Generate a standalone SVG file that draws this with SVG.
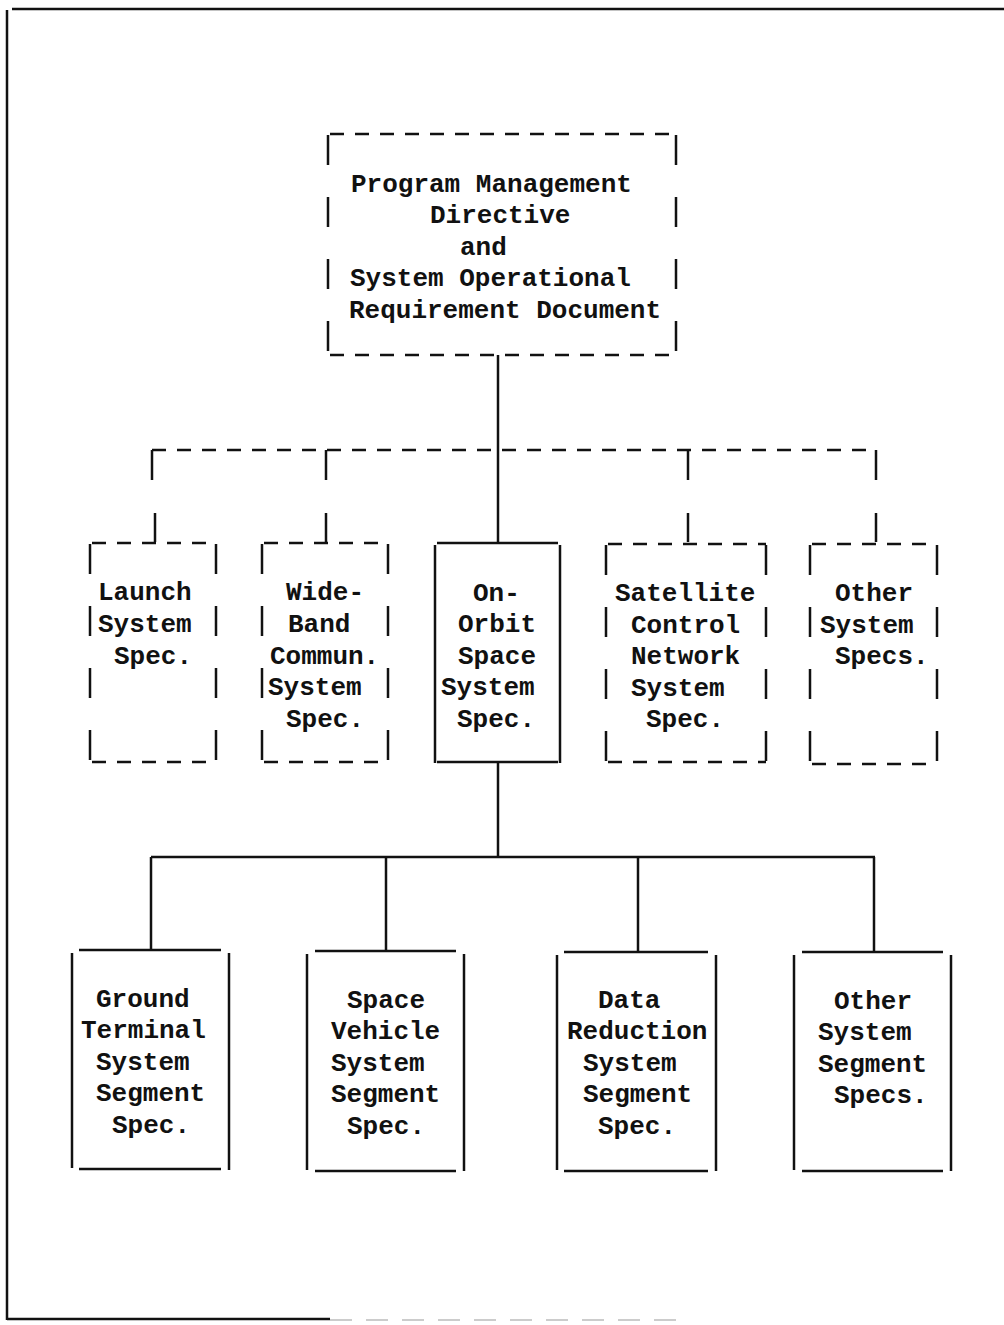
<svg xmlns="http://www.w3.org/2000/svg" width="1004" height="1325" viewBox="0 0 1004 1325">
<style>
.t{font-family:"Liberation Mono","Courier New",monospace;font-size:26px;font-weight:bold;fill:#111}
.s{stroke:#111;stroke-width:2.5;fill:none}
.dh{stroke:#111;stroke-width:2.5;fill:none;stroke-dasharray:14 11}
.dv{stroke:#111;stroke-width:2.5;fill:none;stroke-dasharray:30 32}
</style>
<rect width="1004" height="1325" fill="#fff"/>
<g id="frame">
<line class="s" x1="12" y1="9" x2="1004" y2="9"/>
<line class="s" x1="7" y1="10" x2="7" y2="1320"/>
<line class="s" x1="7" y1="1319" x2="330" y2="1319"/>
<line x1="330" y1="1320" x2="690" y2="1320" stroke="#ccc" stroke-width="2" stroke-dasharray="22 14"/>
</g>
<g id="connectors">
<line class="s" x1="498" y1="355" x2="498" y2="543"/>
<line class="dh" x1="152" y1="450" x2="876" y2="450"/>
<line class="s" x1="152" y1="450" x2="152" y2="480"/>
<line class="s" x1="326" y1="450" x2="326" y2="480"/>
<line class="s" x1="688" y1="450" x2="688" y2="480"/>
<line class="s" x1="876" y1="450" x2="876" y2="480"/>
<line class="s" x1="155" y1="513" x2="155" y2="542"/>
<line class="s" x1="326" y1="513" x2="326" y2="542"/>
<line class="s" x1="688" y1="513" x2="688" y2="542"/>
<line class="s" x1="876" y1="513" x2="876" y2="542"/>
<line class="s" x1="498" y1="762" x2="498" y2="857"/>
<line class="s" x1="151" y1="857" x2="875" y2="857"/>
<line class="s" x1="151" y1="857" x2="151" y2="950"/>
<line class="s" x1="386" y1="857" x2="386" y2="951"/>
<line class="s" x1="638" y1="857" x2="638" y2="952"/>
<line class="s" x1="874" y1="857" x2="874" y2="952"/>
</g>
<g id="pmd">
<line class="dh" x1="330" y1="134" x2="676" y2="134"/>
<line class="dh" x1="330" y1="355" x2="676" y2="355"/>
<line class="dv" x1="328" y1="135" x2="328" y2="355"/>
<line class="dv" x1="676" y1="135" x2="676" y2="355"/>
<text class="t" x="351" y="192">Program Management</text>
<text class="t" x="430" y="223">Directive</text>
<text class="t" x="460" y="255">and</text>
<text class="t" x="350" y="286">System Operational</text>
<text class="t" x="349" y="318">Requirement Document</text>
</g>
<g id="launch">
<line class="dh" x1="92" y1="543" x2="216" y2="543"/>
<line class="dh" x1="92" y1="762" x2="216" y2="762"/>
<line class="dv" x1="90" y1="544" x2="90" y2="762"/>
<line class="dv" x1="216" y1="544" x2="216" y2="762"/>
<text class="t" x="98" y="600">Launch</text>
<text class="t" x="98" y="632">System</text>
<text class="t" x="114" y="664">Spec.</text>
</g>
<g id="wideband">
<line class="dh" x1="264" y1="543" x2="388" y2="543"/>
<line class="dh" x1="264" y1="762" x2="388" y2="762"/>
<line class="dv" x1="262" y1="544" x2="262" y2="762"/>
<line class="dv" x1="388" y1="544" x2="388" y2="762"/>
<text class="t" x="286" y="600">Wide-</text>
<text class="t" x="288" y="632">Band</text>
<text class="t" x="270" y="664">Commun.</text>
<text class="t" x="268" y="695">System</text>
<text class="t" x="286" y="727">Spec.</text>
</g>
<g id="onorbit">
<line class="s" x1="437" y1="543" x2="558" y2="543"/>
<line class="s" x1="437" y1="762" x2="558" y2="762"/>
<line class="s" x1="435" y1="545" x2="435" y2="763"/>
<line class="s" x1="560" y1="545" x2="560" y2="763"/>
<text class="t" x="473" y="601">On-</text>
<text class="t" x="458" y="632">Orbit</text>
<text class="t" x="458" y="664">Space</text>
<text class="t" x="441" y="695">System</text>
<text class="t" x="457" y="727">Spec.</text>
</g>
<g id="satellite">
<line class="dh" x1="608" y1="544" x2="766" y2="544"/>
<line class="dh" x1="608" y1="762" x2="766" y2="762"/>
<line class="dv" x1="606" y1="545" x2="606" y2="762"/>
<line class="dv" x1="766" y1="545" x2="766" y2="762"/>
<text class="t" x="615" y="601">Satellite</text>
<text class="t" x="631" y="633">Control</text>
<text class="t" x="631" y="664">Network</text>
<text class="t" x="631" y="696">System</text>
<text class="t" x="646" y="727">Spec.</text>
</g>
<g id="othersys">
<line class="dh" x1="812" y1="544" x2="937" y2="544"/>
<line class="dh" x1="812" y1="764" x2="937" y2="764"/>
<line class="dv" x1="810" y1="545" x2="810" y2="764"/>
<line class="dv" x1="937" y1="545" x2="937" y2="764"/>
<text class="t" x="835" y="601">Other</text>
<text class="t" x="820" y="633">System</text>
<text class="t" x="835" y="664">Specs.</text>
</g>
<g id="ground">
<line class="s" x1="79" y1="950" x2="221" y2="950"/>
<line class="s" x1="79" y1="1169" x2="221" y2="1169"/>
<line class="s" x1="72" y1="953" x2="72" y2="1168"/>
<line class="s" x1="229" y1="953" x2="229" y2="1170"/>
<text class="t" x="96" y="1007">Ground</text>
<text class="t" x="81" y="1038">Terminal</text>
<text class="t" x="96" y="1070">System</text>
<text class="t" x="96" y="1101">Segment</text>
<text class="t" x="112" y="1133">Spec.</text>
</g>
<g id="spacevehicle">
<line class="s" x1="315" y1="951" x2="456" y2="951"/>
<line class="s" x1="315" y1="1171" x2="456" y2="1171"/>
<line class="s" x1="307" y1="954" x2="307" y2="1170"/>
<line class="s" x1="464" y1="954" x2="464" y2="1171"/>
<text class="t" x="347" y="1008">Space</text>
<text class="t" x="331" y="1039">Vehicle</text>
<text class="t" x="331" y="1071">System</text>
<text class="t" x="331" y="1102">Segment</text>
<text class="t" x="347" y="1134">Spec.</text>
</g>
<g id="datareduction">
<line class="s" x1="564" y1="952" x2="708" y2="952"/>
<line class="s" x1="564" y1="1171" x2="708" y2="1171"/>
<line class="s" x1="557" y1="955" x2="557" y2="1170"/>
<line class="s" x1="716" y1="955" x2="716" y2="1171"/>
<text class="t" x="598" y="1008">Data</text>
<text class="t" x="567" y="1039">Reduction</text>
<text class="t" x="583" y="1071">System</text>
<text class="t" x="583" y="1102">Segment</text>
<text class="t" x="598" y="1134">Spec.</text>
</g>
<g id="othersegment">
<line class="s" x1="802" y1="952" x2="943" y2="952"/>
<line class="s" x1="802" y1="1171" x2="943" y2="1171"/>
<line class="s" x1="794" y1="955" x2="794" y2="1170"/>
<line class="s" x1="951" y1="955" x2="951" y2="1171"/>
<text class="t" x="834" y="1009">Other</text>
<text class="t" x="818" y="1040">System</text>
<text class="t" x="818" y="1072">Segment</text>
<text class="t" x="834" y="1103">Specs.</text>
</g>
</svg>
